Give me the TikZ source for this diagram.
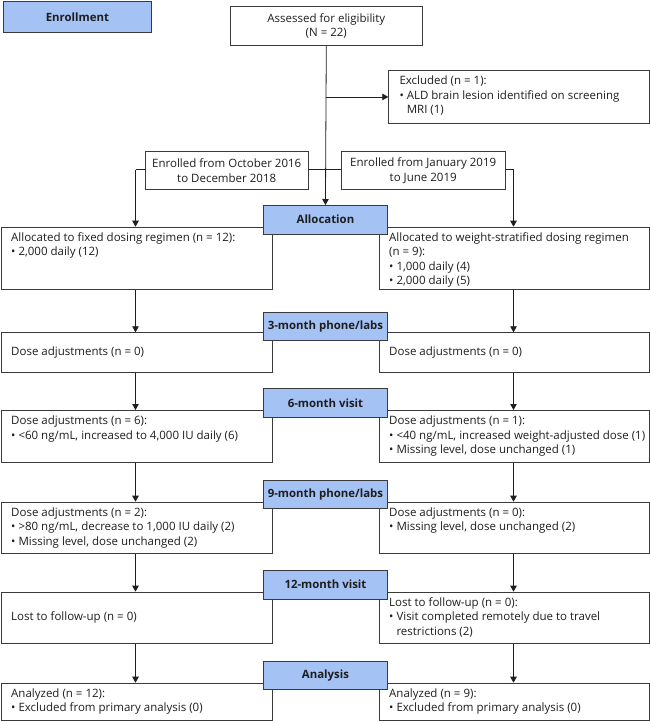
\documentclass[tikz,border=0pt]{standalone}
\usepackage{fontspec}
\setmainfont{Open Sans}
\usetikzlibrary{arrows.meta}
\definecolor{hdr}{HTML}{A4C2F4}
\definecolor{edge}{HTML}{3A3A3A}
\definecolor{ink}{HTML}{1E1E1E}
\newcommand\bl{\textbullet\ }
\newcommand\hind{\hphantom{\textbullet\ }}
\tikzset{
  box/.style={draw=edge, fill=white, line width=0.9pt, anchor=north west, inner sep=0pt},
  hbox/.style={draw=edge, fill=hdr, line width=0.9pt, anchor=north west, inner sep=0pt,
    minimum width=124.6pt, minimum height=28.5pt, font=\fontsize{11.4}{14}\selectfont\bfseries, text=ink},
  txt/.style={inner sep=0pt, align=left, text=ink, font=\fontsize{11.5}{14.2}\selectfont},
  ctxt/.style={inner sep=0pt, align=center, text=ink, font=\fontsize{11.5}{14.2}\selectfont},
  arr/.style={draw=ink, line width=0.8pt, -{Triangle[length=6pt,width=6.5pt]}},
  ln/.style={draw=ink, line width=0.8pt}
}
\begin{document}
\begin{tikzpicture}[x=1pt,y=-1pt]
\useasboundingbox (0,0) rectangle (650,721);
\coordinate (cl) at (135.5,0);
\coordinate (cr) at (513.5,0);
% top part
\node[hbox, minimum width=148pt, minimum height=31pt] (enr) at (3,1) {Enrollment};
\node[box, minimum width=192.3pt, minimum height=38.7pt] (ass) at (229.7,6) {};
\node[ctxt] (asst) at (ass.center) {Assessed for eligibility\\(N = 22)};
\node[box, minimum width=260.2pt, minimum height=53pt] (exc) at (388.3,70) {};
\node[txt, anchor=north west] (exct) at ([shift={(11,6.0)}]exc.north west)
  {Excluded (n = 1):\\\bl ALD brain lesion identified on screening\\\hind MRI (1)};
% connector lines behind enrolled boxes
\coordinate (hl) at (135.5,169.5);
\coordinate (hr) at (513.5,169.5);
% left/right boxes
\node[box, minimum width=271pt, minimum height=62.3pt] (L1) at (0.5,226.7) {};
\node[box, minimum width=270pt, minimum height=62.3pt] (R1) at (378.5,226.7) {};
\node[box, minimum width=271pt, minimum height=39.4pt] (L2) at (0.5,332.3) {};
\node[box, minimum width=270pt, minimum height=39.4pt] (R2) at (378.5,332.3) {};
\node[box, minimum width=271pt, minimum height=51.7pt] (L3) at (0.5,410) {};
\node[box, minimum width=270pt, minimum height=51.7pt] (R3) at (378.5,410) {};
\node[box, minimum width=271pt, minimum height=51.6pt] (L4) at (0.5,501.7) {};
\node[box, minimum width=270pt, minimum height=51.6pt] (R4) at (378.5,501.7) {};
\node[box, minimum width=271pt, minimum height=51.6pt] (L5) at (0.5,591.7) {};
\node[box, minimum width=270pt, minimum height=51.6pt] (R5) at (378.5,591.7) {};
\node[box, minimum width=271pt, minimum height=36.9pt] (L6) at (0.5,682.7) {};
\node[box, minimum width=270pt, minimum height=36.9pt] (R6) at (378.5,682.7) {};
% enrolled path
\draw[ln] (hl) -- (hr);
\draw[arr] (hl) -- (L1.north -| cl);
\draw[arr] (hr) -- (R1.north -| cr);
\node[box, minimum width=163.5pt, minimum height=38.3pt] (enL) at (144.5,151) {};
\node[ctxt] (enLt) at (enL.center) {Enrolled from October 2016\\to December 2018};
\node[box, minimum width=163.5pt, minimum height=38.3pt] (enR) at (341,151) {};
\node[ctxt] (enRt) at (enR.center) {Enrolled from January 2019\\to June 2019};
% header labels
\node[hbox] (h1) at (262.7,205) {Allocation};
\node[hbox] (h2) at (262.7,311.5) {3-month phone/labs};
\node[hbox] (h3) at (262.7,388.3) {6-month visit};
\node[hbox] (h4) at (262.7,479.5) {9-month phone/labs};
\node[hbox] (h5) at (262.7,570) {12-month visit};
\node[hbox] (h6) at (262.7,660.7) {Analysis};
% main connectors
\draw[arr] (ass.south) -- (h1.north);
\draw[arr] (ass.south |- exc.west) -- (exc.west);
\foreach \a/\b in {L1/L2,L2/L3,L3/L4,L4/L5,L5/L6}{
  \draw[arr] (\a.south -| cl) -- (\b.north -| cl);
}
\foreach \a/\b in {R1/R2,R2/R3,R3/R4,R4/R5,R5/R6}{
  \draw[arr] (\a.south -| cr) -- (\b.north -| cr);
}
% texts
\node[txt, anchor=north west] (L1t) at ([shift={(10.5,6.0)}]L1.north west)
  {Allocated to fixed dosing regimen (n = 12):\\\bl 2,000 daily (12)};
\node[txt, anchor=north west] (R1t) at ([shift={(10.5,6.0)}]R1.north west)
  {Allocated to weight-stratified dosing regimen\\(n = 9):\\\bl 1,000 daily (4)\\\bl 2,000 daily (5)};
\node[txt, anchor=west] (L2t) at ([xshift=10.5pt]L2.west) {Dose adjustments (n = 0)};
\node[txt, anchor=west] (R2t) at ([xshift=10.5pt]R2.west) {Dose adjustments (n = 0)};
\node[txt, anchor=north west] (L3t) at ([shift={(10.5,6.0)}]L3.north west)
  {Dose adjustments (n = 6):\\\bl <60 ng/mL, increased to 4,000 IU daily (6)};
\node[txt, anchor=north west] (R3t) at ([shift={(10.5,6.0)}]R3.north west)
  {Dose adjustments (n = 1):\\\bl <40 ng/mL, increased weight-adjusted dose (1)\\\bl Missing level, dose unchanged (1)};
\node[txt, anchor=north west] (L4t) at ([shift={(10.5,6.0)}]L4.north west)
  {Dose adjustments (n = 2):\\\bl >80 ng/mL, decrease to 1,000 IU daily (2)\\\bl Missing level, dose unchanged (2)};
\node[txt, anchor=north west] (R4t) at ([shift={(10.5,6.0)}]R4.north west)
  {Dose adjustments (n = 0):\\\bl Missing level, dose unchanged (2)};
\node[txt, anchor=west] (L5t) at ([xshift=10.5pt]L5.west) {Lost to follow-up (n = 0)};
\node[txt, anchor=north west] (R5t) at ([shift={(10.5,6.0)}]R5.north west)
  {Lost to follow-up (n = 0):\\\bl Visit completed remotely due to travel\\\hind restrictions (2)};
\node[txt, anchor=north west] (L6t) at ([shift={(10.5,6.0)}]L6.north west)
  {Analyzed (n = 12):\\\bl Excluded from primary analysis (0)};
\node[txt, anchor=north west] (R6t) at ([shift={(10.5,6.0)}]R6.north west)
  {Analyzed (n = 9):\\\bl Excluded from primary analysis (0)};
\end{tikzpicture}
\end{document}
